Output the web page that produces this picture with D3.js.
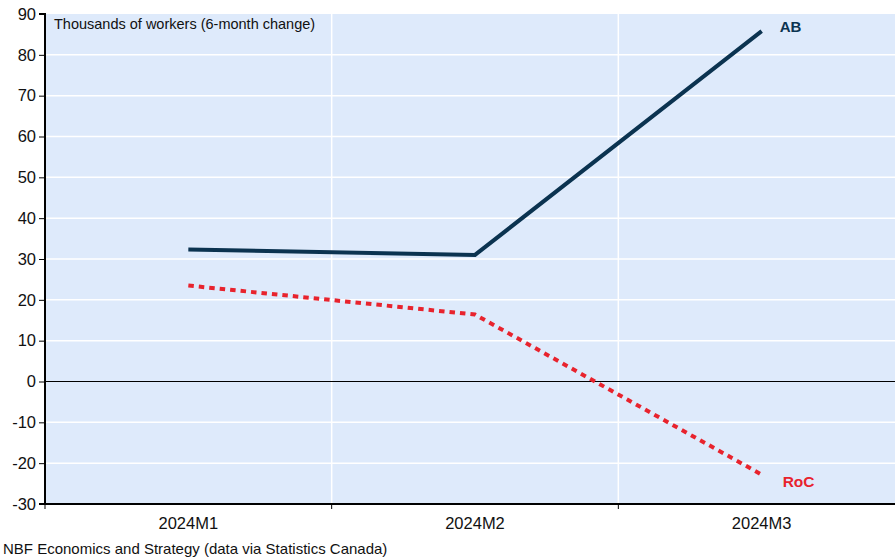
<!DOCTYPE html>
<html>
<head>
<meta charset="utf-8">
<script src="https://cdn.jsdelivr.net/npm/d3@7"></script>
<style>
  html, body { margin: 0; padding: 0; background: #ffffff; }
  svg { display: block; font-family: "Liberation Sans", Arial, sans-serif; }
</style>
</head>
<body>
<svg id="chart" width="895" height="560"></svg>
<script>
// Employment change by month, thousands of workers (6-month change)
const categories = ["2024M1", "2024M2", "2024M3"];
const abValues = [32.3, 31.0, 85.8];
const rocValues = [23.5, 16.4, -22.8];
const yTicks = [-30, -20, -10, 0, 10, 20, 30, 40, 50, 60, 70, 80, 90];

(function () {
const svg = d3.select("#chart");
const W = 895;
const plotLeft = 45, plotTop = 14, plotBottom = 504;
const bandRight = 905;

const x = d3.scaleBand().domain(categories).range([plotLeft, bandRight]).padding(0);
const y = d3.scaleLinear().domain([-30, 90]).range([plotBottom, plotTop]);

svg.append("defs").append("clipPath").attr("id", "plotClip")
  .append("rect").attr("x", plotLeft).attr("y", plotTop)
  .attr("width", W - plotLeft).attr("height", plotBottom - plotTop);

// plot background
svg.append("rect")
  .attr("x", plotLeft).attr("y", plotTop)
  .attr("width", W - plotLeft).attr("height", plotBottom - plotTop)
  .attr("fill", "#deeafb");

const plot = svg.append("g").attr("clip-path", "url(#plotClip)");

// horizontal gridlines
plot.selectAll("line.hgrid").data(yTicks.filter(d => d !== 0 && d !== -30 && d !== 90))
  .enter().append("line")
  .attr("x1", plotLeft).attr("x2", W)
  .attr("y1", d => y(d)).attr("y2", d => y(d))
  .attr("stroke", "#ffffff").attr("stroke-width", 1.5);

// vertical gridlines at category boundaries
const boundaries = categories.slice(1).map(c => x(c));
plot.selectAll("line.vgrid").data(boundaries)
  .enter().append("line")
  .attr("x1", d => d).attr("x2", d => d)
  .attr("y1", plotTop).attr("y2", plotBottom)
  .attr("stroke", "#ffffff").attr("stroke-width", 1.5);

// zero line
plot.append("line")
  .attr("x1", plotLeft).attr("x2", W)
  .attr("y1", y(0)).attr("y2", y(0))
  .attr("stroke", "#000000").attr("stroke-width", 1);

const cx = c => x(c) + x.bandwidth() / 2;
const line = d3.line().x((d, i) => cx(categories[i])).y(d => y(d));

// RoC series (dotted)
plot.append("path")
  .datum(rocValues)
  .attr("d", line)
  .attr("fill", "none")
  .attr("stroke", "#e8232d")
  .attr("stroke-width", 4)
  .attr("stroke-dasharray", "5.5,5");

// AB series
plot.append("path")
  .datum(abValues)
  .attr("d", line)
  .attr("fill", "none")
  .attr("stroke", "#0b3350")
  .attr("stroke-width", 4)
  .attr("stroke-linejoin", "miter");

// series labels
svg.append("text")
  .attr("x", cx("2024M3") + 18).attr("y", y(abValues[2]) + 0.5)
  .attr("font-size", 15).attr("font-weight", "bold").attr("fill", "#0b3350")
  .text("AB");
svg.append("text")
  .attr("x", cx("2024M3") + 21).attr("y", y(rocValues[2]) + 12)
  .attr("font-size", 15.5).attr("font-weight", "bold").attr("fill", "#e8232d")
  .text("RoC");

// y axis
const yAxis = d3.axisLeft(y).tickValues(yTicks).tickSize(6).tickPadding(3)
  .tickFormat(d => String(d));
const gy = svg.append("g").attr("transform", `translate(${plotLeft},0)`).call(yAxis);
gy.select(".domain").attr("stroke", "#000").attr("stroke-width", 2)
  .attr("d", `M${-6},${plotTop}H0V${plotBottom}H${-6}`);
gy.selectAll(".tick line").attr("stroke", "#000").attr("stroke-width", 1);
gy.selectAll(".tick text").attr("font-size", 16.5).attr("fill", "#111")
  .attr("font-family", "Liberation Sans, Arial, sans-serif");

// x axis
svg.append("line")
  .attr("x1", plotLeft - 1).attr("x2", W)
  .attr("y1", plotBottom).attr("y2", plotBottom)
  .attr("stroke", "#000").attr("stroke-width", 2);
const tickXs = categories.map(c => x(c));
svg.selectAll("line.xtick").data(tickXs)
  .enter().append("line")
  .attr("x1", d => d).attr("x2", d => d)
  .attr("y1", plotBottom).attr("y2", plotBottom + 5)
  .attr("stroke", "#000").attr("stroke-width", 1);
svg.selectAll("text.xlab").data(categories)
  .enter().append("text")
  .attr("x", d => cx(d)).attr("y", 528.5)
  .attr("text-anchor", "middle")
  .attr("font-size", 16.5).attr("fill", "#111")
  .text(d => d);

// unit note
svg.append("text")
  .attr("x", 54).attr("y", 29)
  .attr("font-size", 14.5).attr("fill", "#111")
  .text("Thousands of workers (6-month change)");

// source
svg.append("text")
  .attr("x", 3).attr("y", 554)
  .attr("font-size", 15).attr("fill", "#111")
  .text("NBF Economics and Strategy (data via Statistics Canada)");
})();
</script>
</body>
</html>
